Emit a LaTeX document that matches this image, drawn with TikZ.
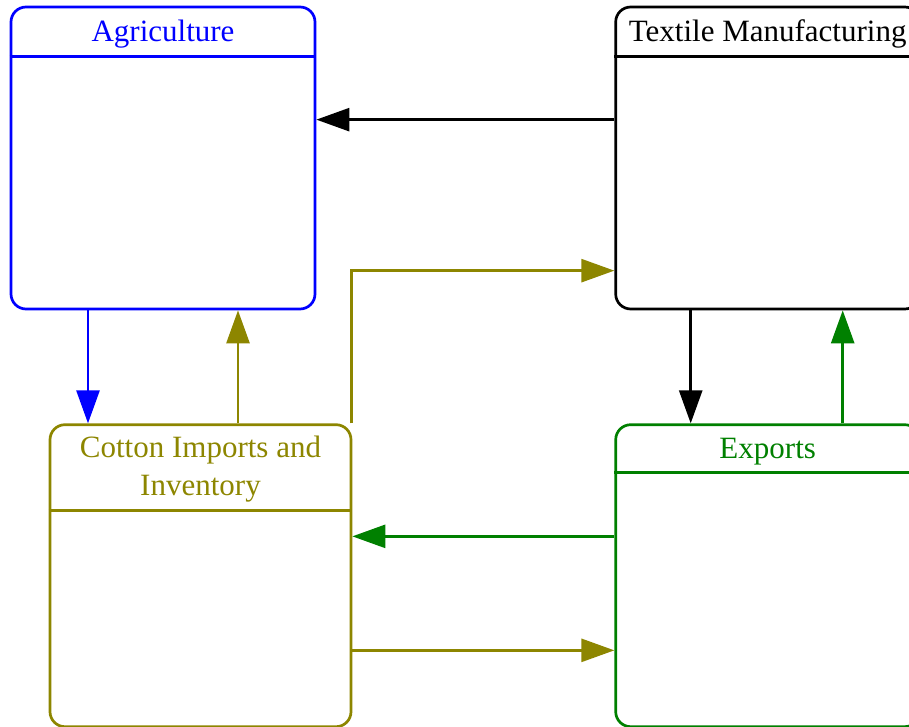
\documentclass[tikz,border=0pt]{standalone}
\usepackage{fontspec}
\setmainfont{Liberation Serif}
\usepackage{xcolor}
\usepackage{tikz}
\usetikzlibrary{arrows.meta}
\usetikzlibrary{positioning}
\definecolor{darkgreen}{RGB}{0,128,0}
\tikzstyle{panel} = [draw, line width=2.7pt, rounded corners=15pt, minimum width=304pt, minimum height=302pt, inner sep=0pt]
\tikzstyle{title} = [inner sep=0pt, align=center, font=\fontsize{31}{38}\selectfont]
\tikzstyle{arrow} = [line width=2.7pt,-{Triangle[length=33pt,width=23pt]}]

\begin{document}
\begin{tikzpicture}[x=1pt, y=-1pt]
  	\useasboundingbox (0,0) rectangle (909,727);
  	% boxes
  	\node[panel, blue] (agri) at (163,158) {};
  	\node[panel, black, right=298pt of agri] (textile) {};
  	\node[panel, darkgreen, below=113pt of textile] (exports) {};
  	\node[panel, olive, left=262pt of exports, minimum width=301pt] (cotton) {};
  	% titles and header lines
  	\node[title, text=blue] (agri-title) at ([yshift=-28pt]agri.north) {Agriculture};
  	\draw[blue, line width=2.7pt] ([yshift=-51pt]agri.north west) -- ([yshift=-51pt]agri.north east);
  	\node[title, text=black] (textile-title) at ([yshift=-28pt]textile.north) {Textile Manufacturing};
  	\draw[black, line width=2.7pt] ([yshift=-51pt]textile.north west) -- ([yshift=-51pt]textile.north east);
  	\node[title, text=olive] (cotton-title) at ([yshift=-46pt]cotton.north) {Cotton Imports and\\Inventory};
  	\draw[olive, line width=2.7pt] ([yshift=-87pt]cotton.north west) -- ([yshift=-87pt]cotton.north east);
  	\node[title, text=darkgreen] (exports-title) at ([yshift=-28pt]exports.north) {Exports};
  	\draw[darkgreen, line width=2.7pt] ([yshift=-49pt]exports.north west) -- ([yshift=-49pt]exports.north east);
  	% flows
  	\draw[arrow, black] ([yshift=-114pt]textile.north west) -- ([yshift=-114pt]textile.north west -| agri.east);
  	\draw[arrow, blue] ([xshift=-75pt]agri.south) -- ([xshift=-75pt]agri.south |- cotton.north);
  	\draw[arrow, olive] ([xshift=75pt]agri.south |- cotton.north) -- ([xshift=75pt]agri.south);
  	\draw[arrow, olive] ([xshift=-1pt]cotton.north east) |- ([yshift=-265pt]textile.north west);
  	\draw[arrow, black] ([xshift=-77pt]textile.south) -- ([xshift=-77pt]textile.south |- exports.north);
  	\draw[arrow, darkgreen] ([xshift=75pt]textile.south |- exports.north) -- ([xshift=75pt]textile.south);
  	\draw[arrow, darkgreen] ([yshift=-113pt]exports.north west) -- ([yshift=-113pt]exports.north west -| cotton.east);
  	\draw[arrow, olive] ([yshift=-227pt]cotton.north east) -- ([yshift=-227pt]cotton.north east -| exports.west);
  \end{tikzpicture}
\end{document}
